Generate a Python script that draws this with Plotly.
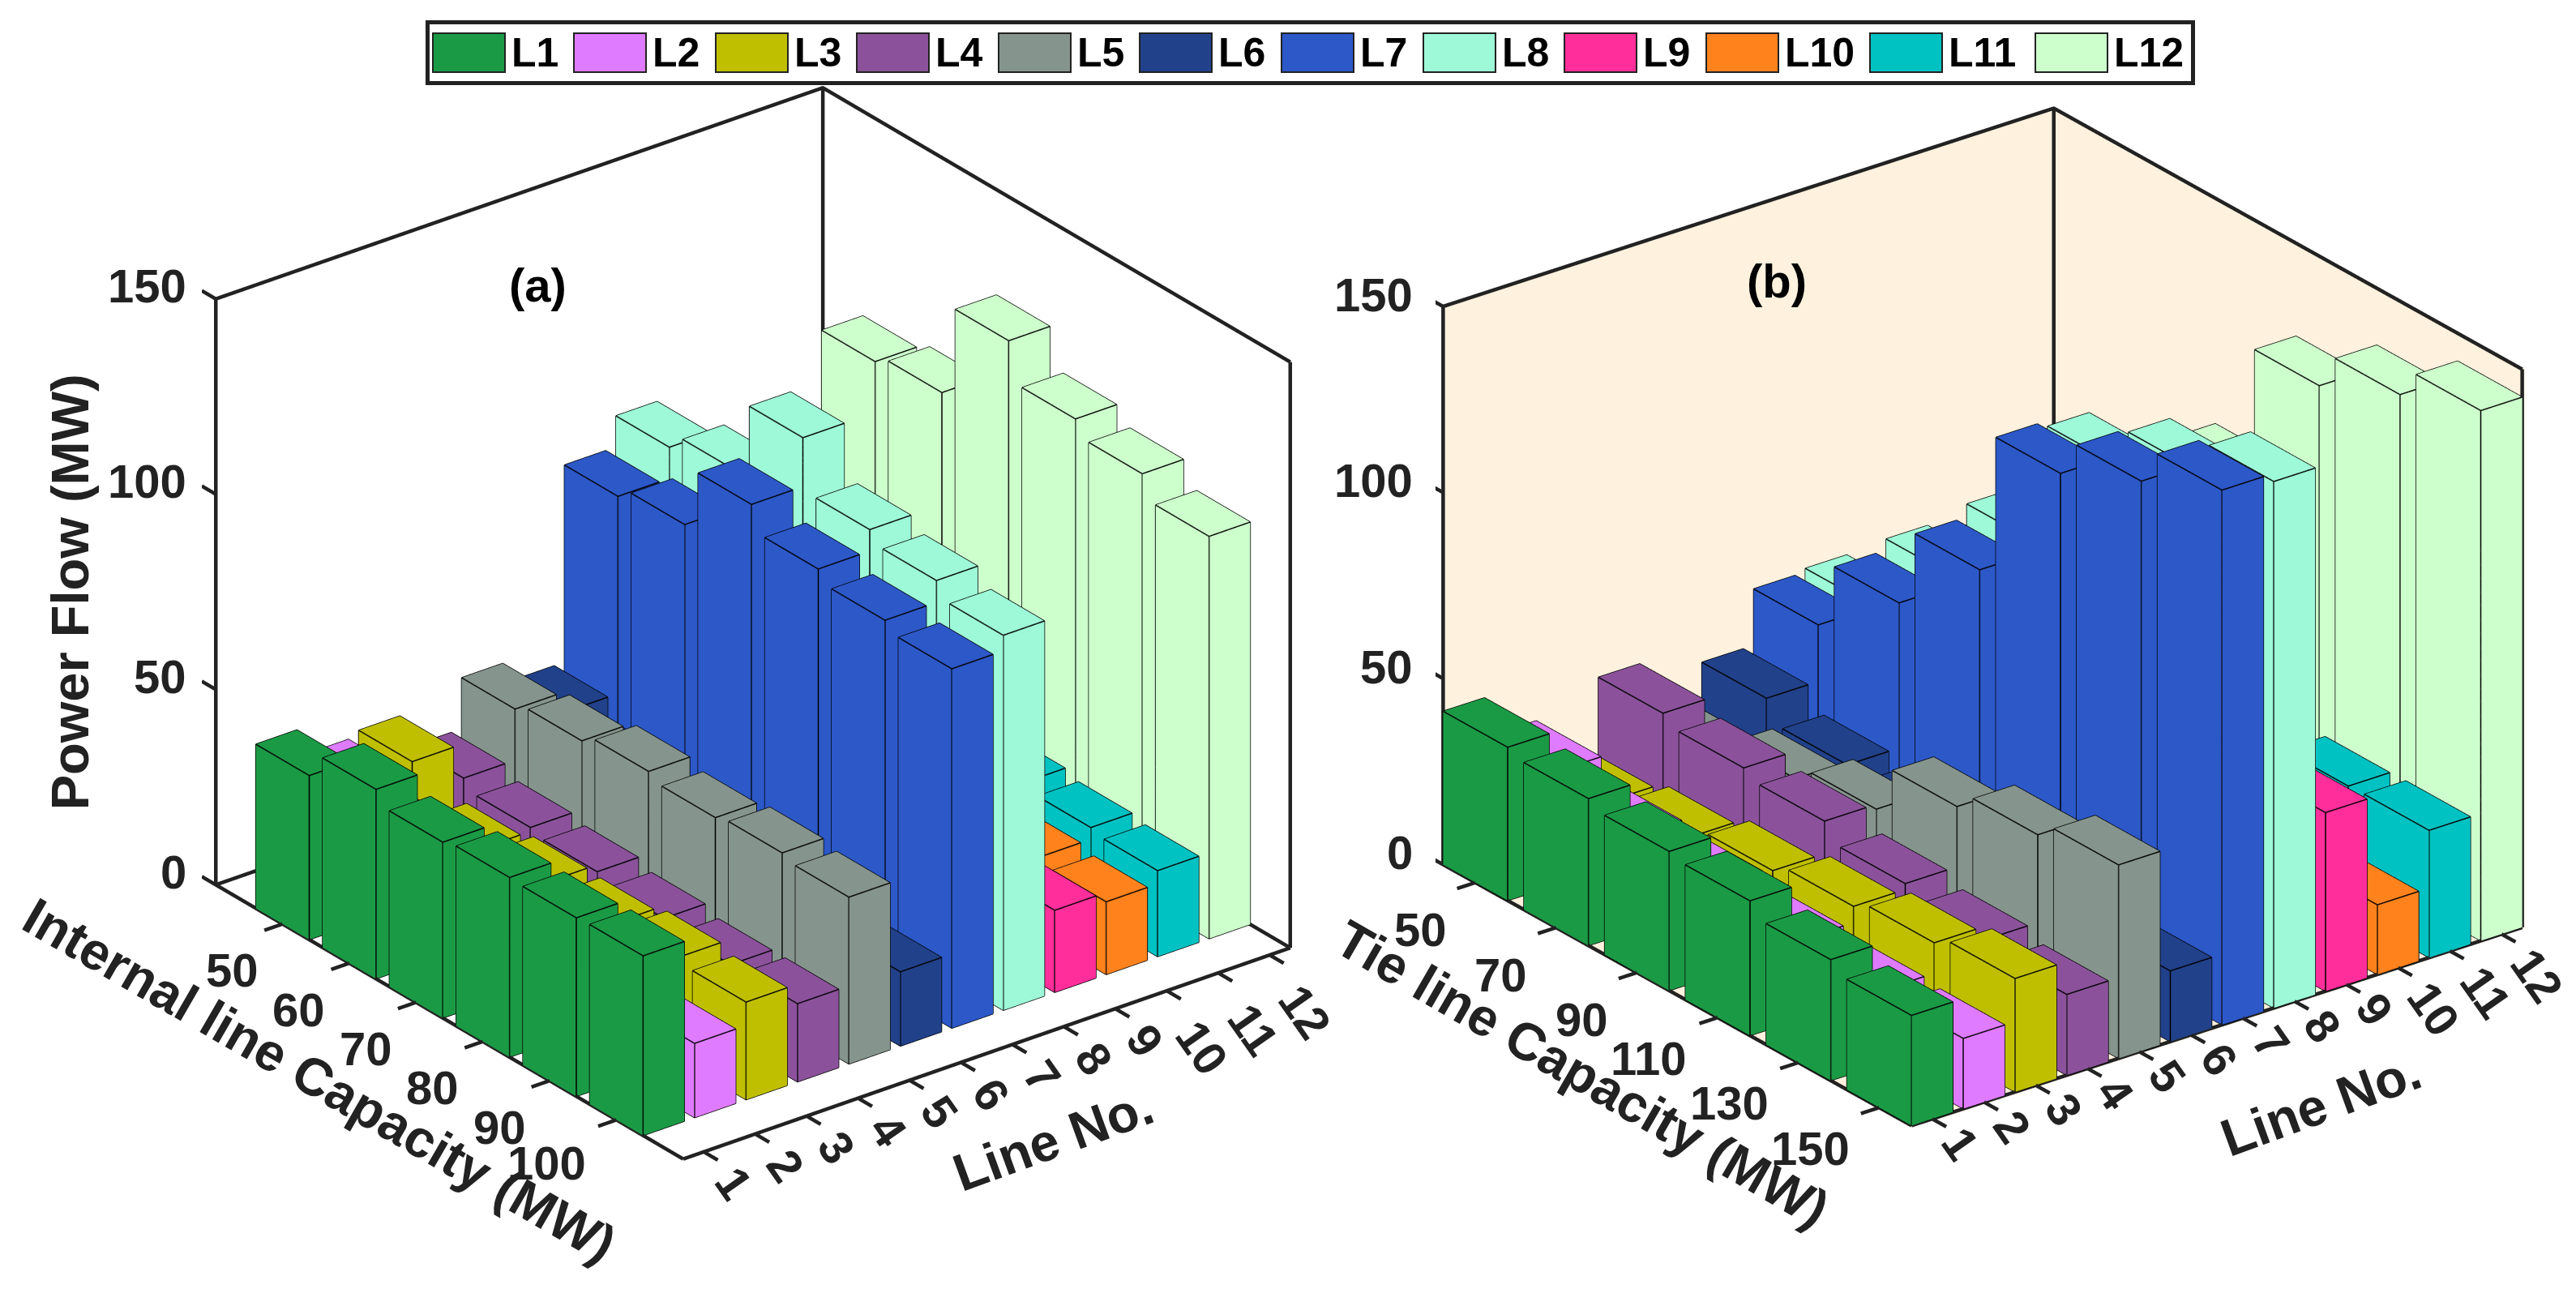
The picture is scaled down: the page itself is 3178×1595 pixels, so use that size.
import plotly.graph_objects as go

W, H = 3178, 1595
LINE_NOS = list(range(1, 13))
LINE_NAMES = ["L%d" % n for n in LINE_NOS]
COLORS = ["#1B9A45", "#DF7BFF", "#BFBF00", "#8B529B", "#85948C", "#21418A",
          "#2C58C8", "#9EF9D9", "#FF2E9B", "#FF821D", "#00C2C2", "#CDFFCC"]
Z_TICKS = [0, 50, 100, 150]

CAP_A = [50, 60, 70, 80, 90, 100]
A_L1 = [42, 48.5, 45, 46, 45.7, 46]
A_L2 = [35, 30, 28, 26, 23, 19]
A_L3 = [36.4, 24, 25.5, 25, 26.5, 25]
A_L4 = [27.6, 25, 23.7, 21.8, 20, 20]
A_L5 = [40.7, 42.6, 44.8, 43, 44, 42.7]
A_L6 = [35.5, 30, 27, 24, 22, 19]
A_L7 = [86, 88.8, 104, 97.5, 94.4, 92]
A_L8 = [94, 98, 116.5, 103, 100, 96]
A_L9 = [26, 25, 24, 23, 22, 21]
A_L10 = [21, 21, 20, 20, 20, 18.6]
A_L11 = [22, 22, 23, 24.5, 23, 22]
A_L12 = [97.6, 99.7, 123, 113, 109, 103]
POWER_A = [A_L1, A_L2, A_L3, A_L4, A_L5, A_L6, A_L7, A_L8, A_L9, A_L10, A_L11, A_L12]

CAP_B = [50, 70, 90, 110, 130, 150]
B_L1 = [41.2, 39.5, 37.4, 36.2, 32.5, 29.6]
B_L2 = [30.5, 25.5, 24, 21.3, 19.8, 18.9]
B_L3 = [17.9, 20.3, 23.2, 25.7, 28, 30.5]
B_L4 = [36.8, 34.2, 32, 27.3, 24.4, 21.7]
B_L5 = [21.5, 26.8, 30.7, 43.5, 48, 52]
B_L6 = [31.8, 26, 24, 22, 20, 19]
B_L7 = [47, 65, 86, 124, 134, 143.7]
B_L8 = [48, 68, 89.5, 122.5, 133, 141.5]
B_L9 = [30, 33, 37, 40, 44, 48]
B_L10 = [14, 15, 16, 17, 18, 18.7]
B_L11 = [30, 31, 32, 33, 34, 34.2]
B_L12 = [50, 70, 89.4, 125, 134.7, 142.5]
POWER_B = [B_L1, B_L2, B_L3, B_L4, B_L5, B_L6, B_L7, B_L8, B_L9, B_L10, B_L11, B_L12]

BAR = 0.4       # half bar width in category steps
EXPAND = 1.6    # hidden axis cube is larger than the drawn frame so ticks fit
INK = "#222222"
FONT = "Liberation Sans"


def box_mesh(cx, cy, hx, hy, h, start):
    xs = [cx - hx, cx + hx, cx + hx, cx - hx] * 2
    ys = [cy - hy, cy - hy, cy + hy, cy + hy] * 2
    zs = [0] * 4 + [h] * 4
    tris = [(0, 1, 2), (0, 2, 3), (4, 5, 6), (4, 6, 7), (0, 1, 5), (0, 5, 4),
            (1, 2, 6), (1, 6, 5), (2, 3, 7), (2, 7, 6), (3, 0, 4), (3, 4, 7)]
    return xs, ys, zs, [(a + start, b + start, c + start) for a, b, c in tris]


def box_edges(cx, cy, hx, hy, h):
    x0, x1, y0, y1 = cx - hx, cx + hx, cy - hy, cy + hy
    ex, ey, ez = [], [], []
    for z in (0, h):
        ex += [x0, x1, x1, x0, x0, None]
        ey += [y0, y0, y1, y1, y0, None]
        ez += [z, z, z, z, z, None]
    for x, y in ((x0, y0), (x1, y0), (x1, y1), (x0, y1)):
        ex += [x, x, None]
        ey += [y, y, None]
        ez += [0, h, None]
    return ex, ey, ez


def panel(fig, scene, caps, power, xlim, ylim, wall):
    step = caps[1] - caps[0]
    (xa, xb), (ya, yb) = xlim, ylim
    if wall:
        # walls sit a hair behind the frame so the frame lines stay on top
        wa = xa - (xb - xa) * 0.004
        wb = yb + (yb - ya) * 0.004
        wz = -0.6
        fig.add_trace(go.Mesh3d(
            x=[wa, xb, xb, wa, wa, wa, wa, wa, wa, xb, xb, wa],
            y=[ya, ya, wb, wb, ya, wb, wb, ya, wb, wb, wb, wb],
            z=[wz, wz, wz, wz, wz, wz, 150, 150, wz, wz, 150, 150],
            i=[0, 0, 4, 4, 8, 8], j=[1, 2, 5, 6, 9, 10], k=[2, 3, 6, 7, 10, 11],
            color=wall, flatshading=True, hoverinfo="skip", scene=scene,
            lighting=dict(ambient=1, diffuse=0, specular=0, fresnel=0, roughness=1)))
    for n, vals in enumerate(power):
        mx, my, mz, tri, ex, ey, ez = [], [], [], [], [], [], []
        for c, v in zip(caps, vals):
            a, b, d, t = box_mesh(c, LINE_NOS[n], BAR * step, BAR, v, len(mx))
            mx += a; my += b; mz += d; tri += t
            a, b, d = box_edges(c, LINE_NOS[n], BAR * step, BAR, v)
            ex += a; ey += b; ez += d
        fig.add_trace(go.Mesh3d(
            x=mx, y=my, z=mz, i=[t[0] for t in tri], j=[t[1] for t in tri], k=[t[2] for t in tri],
            color=COLORS[n], name=LINE_NAMES[n], flatshading=True, scene=scene,
            lighting=dict(ambient=1, diffuse=0, specular=0, fresnel=0, roughness=1)))
        fig.add_trace(go.Scatter3d(x=ex, y=ey, z=ez, mode="lines", scene=scene, hoverinfo="skip",
                                   line=dict(color="#000000", width=3), showlegend=False))
    # frame
    fx = [xa, xb, None, xb, xb, None, xa, xa, None, xa, xa, None, xb, xb, None,
          xa, xa, xb, None, xa, xa, xb]
    fy = [ya, ya, None, ya, yb, None, ya, ya, None, yb, yb, None, yb, yb, None,
          ya, yb, yb, None, ya, yb, yb]
    fz = [0, 0, None, 0, 0, None, 0, 150, None, 0, 150, None, 0, 150, None,
          150, 150, 150, None, 0, 0, 0]
    tx, ty, tz = [], [], []
    xtick = (xb - xa) * 0.03
    ytick = (yb - ya) * 0.03
    for z in Z_TICKS:
        tx += [xa, xa - xtick, None]; ty += [ya, ya, None]; tz += [z, z, None]
    for c in caps:
        tx += [c, c, None]; ty += [ya, ya - ytick, None]; tz += [0, 0, None]
    for l in LINE_NOS:
        tx += [xb, xb + xtick, None]; ty += [l, l, None]; tz += [0, 0, None]
    fig.add_trace(go.Scatter3d(x=fx, y=fy, z=fz, mode="lines", scene=scene, hoverinfo="skip",
                               line=dict(color=INK, width=9)))
    fig.add_trace(go.Scatter3d(x=tx, y=ty, z=tz, mode="lines", scene=scene, hoverinfo="skip",
                               line=dict(color=INK, width=9)))


def txt(x, y, z, s, size, dx, dy, angle=0, xanchor="center"):
    return dict(x=x, y=y, z=z, text="<b>%s</b>" % s, showarrow=False, textangle=angle,
                xanchor=xanchor, yanchor="middle", xshift=dx, yshift=-dy,
                font=dict(family=FONT, size=size, color=INK))


def scene_layout(domain_px, xlim, ylim, aspect, eye, anns, zoom):
    mx, my = sum(xlim) / 2, sum(ylim) / 2
    hx, hy = (xlim[1] - xlim[0]) / 2 * EXPAND, (ylim[1] - ylim[0]) / 2 * EXPAND
    axis = dict(visible=False, showgrid=False, zeroline=False, showspikes=False)
    return dict(
        domain=dict(x=[domain_px[0] / W, domain_px[1] / W],
                    y=[1 - domain_px[3] / H, 1 - domain_px[2] / H]),
        xaxis=dict(range=[mx - hx, mx + hx], **axis),
        yaxis=dict(range=[my - hy, my + hy], **axis),
        zaxis=dict(range=[75 - 75 * EXPAND, 75 + 75 * EXPAND], **axis),
        aspectmode="manual",
        aspectratio=dict(x=aspect[0] * EXPAND * zoom, y=aspect[1] * EXPAND * zoom, z=aspect[2] * EXPAND * zoom),
        camera=dict(eye=dict(x=eye[0] * 2, y=eye[1] * 2, z=eye[2] * 2),
                    center=dict(x=0, y=0, z=0), up=dict(x=0, y=0, z=1),
                    projection=dict(type="orthographic")),
        annotations=anns, bgcolor="rgba(0,0,0,0)")


fig = go.Figure()
XLIM_A, YLIM = (40, 110), (0.6, 12.4)
XLIM_B = (42, 158)
panel(fig, "scene", CAP_A, POWER_A, XLIM_A, YLIM, None)
panel(fig, "scene2", CAP_B, POWER_B, XLIM_B, YLIM, "#FEF1DD")

TICK = 58
TITLE = 65
anns_a = [txt(XLIM_A[0], YLIM[0], z, z, TICK, -34, -16, xanchor="right") for z in Z_TICKS]
anns_a += [txt(c, YLIM[0], 0, c, TICK, -86 if c >= 100 else -62, 53 if c >= 100 else 57) for c in CAP_A]
anns_a += [txt(XLIM_A[1], l, 0, l, TICK, 44 if l >= 10 else 37, 70 if l >= 10 else 39, 55) for l in LINE_NOS]
anns_a += [txt(XLIM_A[0], YLIM[0], 75, "Power Flow (MW)", TITLE, -180, 0, -90),
           txt(75, YLIM[0], 0, "Internal line Capacity (MW)", TITLE, -160, 72, 30),
           txt(XLIM_A[1], 6.5, 0, "Line No.", TITLE, 82, 106, -20)]
anns_b = [txt(XLIM_B[0], YLIM[0], z, z, TICK, -35, -15, xanchor="right") for z in Z_TICKS]
anns_b += [txt(c, YLIM[0], 0, c, TICK, -85 if c >= 100 else -68, 50 if c >= 100 else 58) for c in CAP_B]
anns_b += [txt(XLIM_B[1], l, 0, l, TICK, 44 if l >= 10 else 35, 51 if l >= 10 else 30, 55) for l in LINE_NOS]
anns_b += [txt(100, YLIM[0], 0, "Tie line Capacity (MW)", TITLE, -117, 97, 30),
           txt(XLIM_B[1], 6.5, 0, "Line No.", TITLE, 128, 96, -20)]

shapes = [dict(type="rect", xref="paper", yref="paper", x0=527.5 / W, x1=2705.5 / W,
               y0=1 - 102.5 / H, y1=1 - 27.5 / H, line=dict(color=INK, width=5), fillcolor="white")]
SWATCH_LEFT = [534, 708, 883, 1057, 1232, 1406, 1581, 1756, 1930, 2105, 2307, 2511]
legend_anns = []
for name, col, left in zip(LINE_NAMES, COLORS, SWATCH_LEFT):
    shapes.append(dict(type="rect", xref="paper", yref="paper", x0=left / W, x1=(left + 89) / W,
                       y0=1 - 89 / H, y1=1 - 41 / H, fillcolor=col, line=dict(color="#222222", width=2)))
    legend_anns.append(dict(xref="paper", yref="paper", x=(left + 95) / W, y=1 - 65 / H, text="<b>%s</b>" % name,
                            showarrow=False, xanchor="left", yanchor="middle",
                            font=dict(family=FONT, size=50, color="black")))
legend_anns += [dict(xref="paper", yref="paper", x=px / W, y=1 - py / H, text="<b>%s</b>" % s, showarrow=False,
                     xanchor="center", yanchor="middle", font=dict(family=FONT, size=58, color="black"))
                for s, px, py in (("(a)", 663, 351), ("(b)", 2192, 347))]

fig.update_layout(
    width=W, height=H, margin=dict(l=0, r=0, t=0, b=0), showlegend=False,
    paper_bgcolor="white", shapes=shapes, annotations=legend_anns,
    scene=scene_layout((249, 1609, 89, 1449), XLIM_A, YLIM, (1, 1, 0.857), (0.7069, -0.5443, 0.4517), anns_a, 1.39),
    scene2=scene_layout((1771, 3121, 101, 1421), XLIM_B, YLIM, (1.005, 1, 0.8026), (0.7195, -0.5491, 0.4252), anns_b, 1.436),
)
fig.write_html("out.html", config=dict(displayModeBar=False),
               post_script="document.body.style.margin='0';document.body.style.overflow='hidden';")
